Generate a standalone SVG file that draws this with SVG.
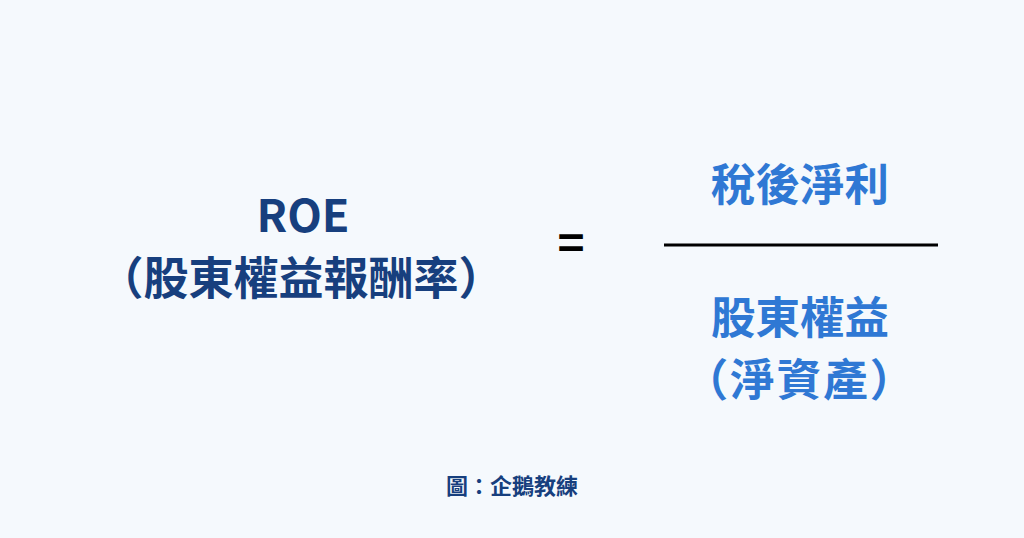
<svg xmlns="http://www.w3.org/2000/svg" width="1024" height="538" viewBox="0 0 1024 538">
<style>
text{font-family:"Noto Sans CJK TC","Noto Sans",sans-serif;font-weight:700;text-anchor:middle}
.d{fill:#173f7e}
.l{fill:#2f78d4}
</style>
<rect width="1024" height="538" fill="#f5f9fd"/>
<g id="left">
<text class="d" x="303" y="232" font-size="45">ROE</text>
<text class="d" x="301" y="295" font-size="45">（股東權益報酬率）</text>
</g>
<g id="equals"><text x="571" y="260" font-size="46" fill="#000">=</text></g>
<g id="numerator"><text class="l" x="800" y="201" font-size="44.5">稅後淨利</text></g>
<g id="connectors"><line x1="664" y1="245" x2="938" y2="245" stroke="#000" stroke-width="3"/></g>
<g id="denominator">
<text class="l" x="800" y="334" font-size="44.5">股東權益</text>
<text class="l" x="800" y="396" font-size="44.5" letter-spacing="2">（淨資產）</text>
</g>
<g id="credit"><text class="d" x="512" y="494" font-size="22">圖：企鵝教練</text></g>
</svg>
